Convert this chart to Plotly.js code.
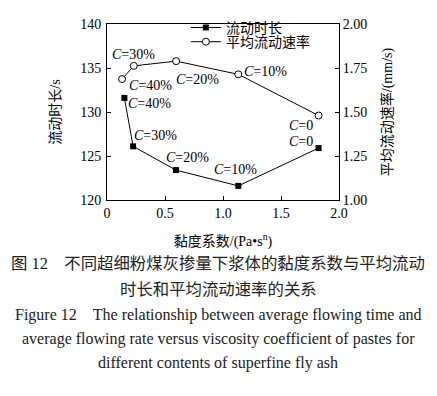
<!DOCTYPE html>
<html>
<head>
<meta charset="utf-8">
<script src="https://cdn.plot.ly/plotly-3.0.1.min.js"></script>
<style>
html,body{margin:0;padding:0;background:#fff;}
#chart{width:437px;height:396px;}
</style>
</head>
<body>
<div id="chart"></div>
<script>
// Data
var viscosityTime = [0.15, 0.225, 0.594, 1.132, 1.824];
var flowTime = [131.6, 126.1, 123.4, 121.6, 125.9];
var viscosityRate = [0.13, 0.231, 0.596, 1.132, 1.824];
var flowRate = [1.687, 1.762, 1.789, 1.714, 1.48];
var contentLabels = ["40%", "30%", "20%", "10%", "0"];
var xTickVals = [0, 0.5, 1.0, 1.5, 2.0];
var xTickText = ["0", "0.5", "1.0", "1.5", "2.0"];
var y1TickVals = [120, 125, 130, 135, 140];
var y2TickVals = [1.00, 1.25, 1.50, 1.75, 2.00];
var y2TickText = ["1.00", "1.25", "1.50", "1.75", "2.00"];
var captionLines = [
  "图 12\u3000不同超细粉煤灰掺量下浆体的黏度系数与平均流动",
  "时长和平均流动速率的关系",
  "Figure 12\u2003The relationship between average flowing time and",
  "average flowing rate versus viscosity coefficient of pastes for",
  "different contents of superfine fly ash"
];

var serif = "Liberation Serif, Times New Roman, serif";
var cjk = "Liberation Serif, Noto Sans CJK SC, sans-serif";

// label offsets in pixels (relative to each point)
var timeShift = [[25, -6], [22, 11], [12, 13], [-3, 16], [-18, 7]];
var rateShift = [[28, -6], [0, 11], [21, -18], [27, 3], [-18, -10]];

var traces = [
  {
    x: viscosityTime, y: flowTime, name: "流动时长", type: "scatter", mode: "lines+markers",
    line: {color: "#000", width: 1},
    marker: {symbol: "square", size: 6, color: "#000"},
    yaxis: "y", legend: "legend"
  },
  {
    x: viscosityRate, y: flowRate, name: "平均流动速率", type: "scatter", mode: "lines+markers",
    line: {color: "#000", width: 1},
    marker: {symbol: "circle", size: 7, color: "#fff", line: {color: "#000", width: 1}},
    yaxis: "y2", legend: "legend2"
  }
];

var annotations = [];
for (var i = 0; i < contentLabels.length; i++) {
  annotations.push({
    x: viscosityTime[i], y: flowTime[i], xref: "x", yref: "y",
    text: "<i>C</i>=" + contentLabels[i], showarrow: false,
    xshift: timeShift[i][0], yshift: timeShift[i][1],
    font: {family: serif, size: 14, color: "#000"}
  });
  annotations.push({
    x: viscosityRate[i], y: flowRate[i], xref: "x", yref: "y2",
    text: "<i>C</i>=" + contentLabels[i], showarrow: false,
    xshift: rateShift[i][0], yshift: rateShift[i][1],
    font: {family: serif, size: 14, color: "#000"}
  });
}
var capY = [-0.3636, -0.508, -0.651, -0.790, -0.927];
for (var j = 0; j < captionLines.length; j++) {
  annotations.push({
    x: 0.4806, y: capY[j], xref: "paper", yref: "paper",
    xanchor: "center", yanchor: "middle",
    text: captionLines[j], showarrow: false,
    font: {family: cjk, size: j < 2 ? 16.4 : 16, color: "#222"}
  });
}

var axisCommon = {
  showline: true, linecolor: "#000", linewidth: 1,
  ticks: "inside", ticklen: 4, tickcolor: "#000", tickwidth: 1,
  showgrid: false, zeroline: false,
  tickfont: {family: serif, size: 14, color: "#000"}
};

var legendCommon = {
  xanchor: "left", yanchor: "middle",
  bgcolor: "rgba(0,0,0,0)", itemwidth: 30,
  font: {family: cjk, size: 14, color: "#000"}
};

var layout = {
  width: 437, height: 396,
  margin: {l: 107, r: 98, t: 13, b: 196},
  paper_bgcolor: "#fff", plot_bgcolor: "#fff",
  showlegend: true,
  legend: Object.assign({x: 0.34, y: 0.978}, legendCommon),
  legend2: Object.assign({x: 0.34, y: 0.897}, legendCommon),
  xaxis: Object.assign({}, axisCommon, {
    range: [0, 2], tickvals: xTickVals, ticktext: xTickText, mirror: true,
    title: {text: "黏度系数/(Pa•s<sup>n</sup>)", font: {family: cjk, size: 14, color: "#000"}, standoff: 16}
  }),
  yaxis: Object.assign({}, axisCommon, {
    range: [120, 140], tickvals: y1TickVals, ticklabelstandoff: 2,
    title: {text: "流动时长/s", font: {family: cjk, size: 14, color: "#000"}, standoff: 16}
  }),
  yaxis2: Object.assign({}, axisCommon, {
    range: [1, 2], tickvals: y2TickVals, ticktext: y2TickText,
    overlaying: "y", side: "right",
    title: {text: "平均流动速率/(mm/s)", font: {family: cjk, size: 14, color: "#000"}, standoff: 15}
  }),
  annotations: annotations
};

Plotly.newPlot("chart", traces, layout, {displayModeBar: false, staticPlot: true});
</script>
</body>
</html>
